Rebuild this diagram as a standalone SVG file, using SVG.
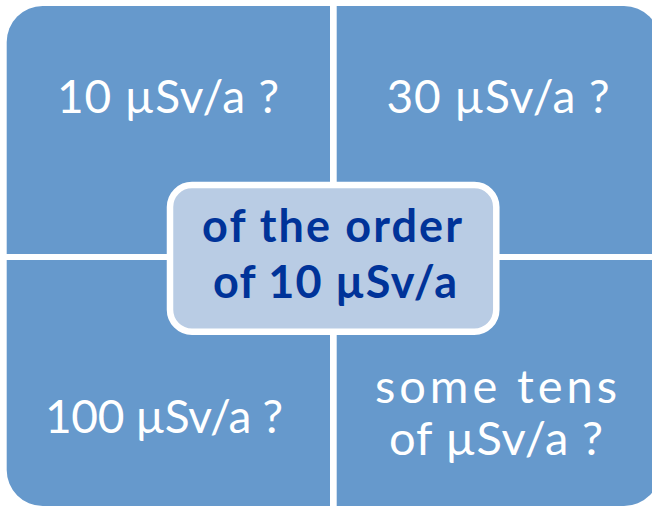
<svg xmlns="http://www.w3.org/2000/svg" width="652" height="507" viewBox="0 0 652 507">
<style>
.q{fill:#6699cc}
.qt{font-family:Lato,"Liberation Sans",sans-serif;font-size:46px;fill:#ffffff;text-anchor:middle}
.ct{font-family:Lato,"Liberation Sans",sans-serif;font-size:45px;font-weight:bold;fill:#003399;text-anchor:middle}
</style>
<rect width="652" height="507" fill="#ffffff"/>
<g id="q-tl">
<path class="q" d="M6.7,254 V42 A36,36 0 0 1 42.7,6 H330 V254 Z"/>
<text class="qt" x="168" y="113" textLength="222">10 µSv/a ?</text>
</g>
<g id="q-tr">
<path class="q" d="M336.7,6 H624 A36,36 0 0 1 660,42 V254 H336.7 Z"/>
<text class="qt" x="498" y="113" textLength="223">30 µSv/a ?</text>
</g>
<g id="q-bl">
<path class="q" d="M6.7,260 H330 V506 H42.7 A36,36 0 0 1 6.7,470 Z"/>
<text class="qt" x="164" y="433" textLength="238">100 µSv/a ?</text>
</g>
<g id="q-br">
<path class="q" d="M336.7,260 H660 V470 A36,36 0 0 1 624,506 H336.7 Z"/>
<text class="qt" x="496" y="403" style="font-size:47px" textLength="242">some tens</text>
<text class="qt" x="496" y="455" style="font-size:47px" textLength="214">of µSv/a ?</text>
</g>
<g id="center">
<rect x="170" y="185" width="326.3" height="146.7" rx="22" fill="#b9cce4" stroke="#ffffff" stroke-width="6.5"/>
<text class="ct" x="332" y="242" textLength="260">of the order</text>
<text class="ct" x="335" y="298" textLength="244">of 10 µSv/a</text>
</g>
</svg>
